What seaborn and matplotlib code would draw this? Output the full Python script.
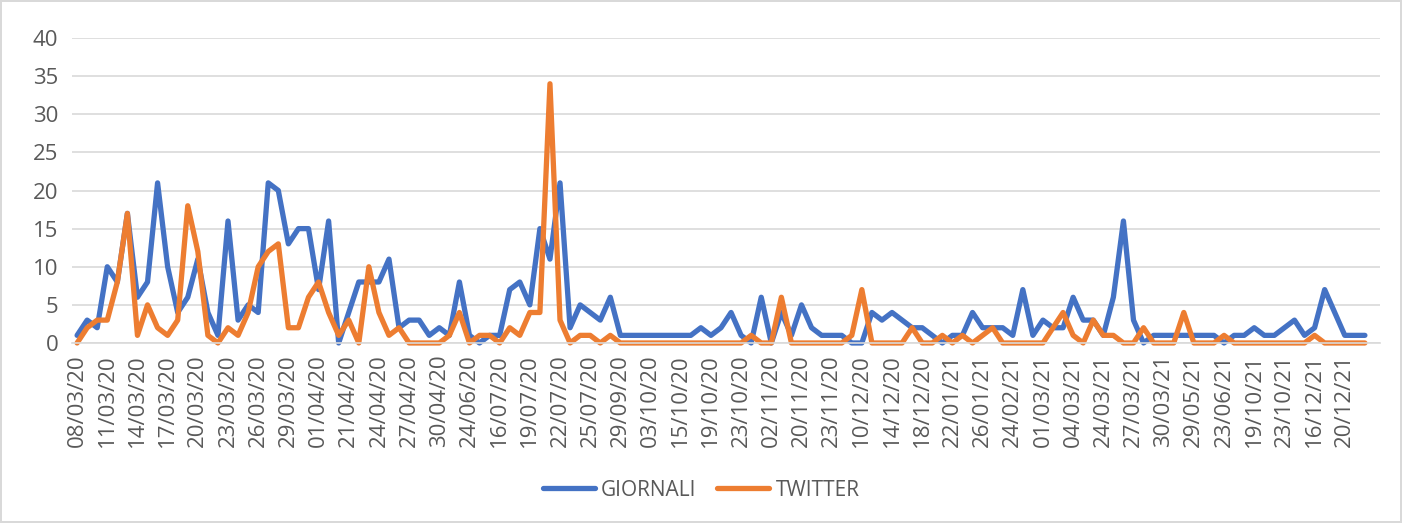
import pandas as pd
import seaborn as sns
import matplotlib.pyplot as plt
import numpy as np

# tick labels (one every 3 days shown)
tick_labels = ['08/03/20', '11/03/20', '14/03/20', '17/03/20', '20/03/20', '23/03/20',
               '26/03/20', '29/03/20', '01/04/20', '21/04/20', '24/04/20', '27/04/20',
               '30/04/20', '24/06/20', '16/07/20', '19/07/20', '22/07/20', '25/07/20',
               '29/09/20', '03/10/20', '15/10/20', '19/10/20', '23/10/20', '02/11/20',
               '20/11/20', '23/11/20', '10/12/20', '14/12/20', '18/12/20', '22/01/21',
               '26/01/21', '24/02/21', '01/03/21', '04/03/21', '24/03/21', '27/03/21',
               '30/03/21', '29/05/21', '23/06/21', '19/10/21', '23/10/21', '16/12/21',
               '20/12/21']

giornali = [1, 3, 2, 10, 8, 17, 6, 8, 21, 10, 4, 6, 11, 4, 1, 16, 3, 5, 4, 21,
            20, 13, 15, 15, 7, 16, 0, 4, 8, 8, 8, 11, 2, 3, 3, 1, 2, 1, 8, 1,
            0, 1, 1, 7, 8, 5, 15, 11, 21, 2, 5, 4, 3, 6, 1, 1, 1, 1, 1, 1,
            1, 1, 2, 1, 2, 4, 1, 0, 6, 0, 4, 1, 5, 2, 1, 1, 1, 0, 0, 4,
            3, 4, 3, 2, 2, 1, 0, 1, 1, 4, 2, 2, 2, 1, 7, 1, 3, 2, 2, 6,
            3, 3, 1, 6, 16, 3, 0, 1, 1, 1, 1, 1, 1, 1, 0, 1, 1, 2, 1, 1,
            2, 3, 1, 2, 7, 4, 1, 1, 1]

twitter = [0, 2, 3, 3, 8, 17, 1, 5, 2, 1, 3, 18, 12, 1, 0, 2, 1, 4, 10, 12,
           13, 2, 2, 6, 8, 4, 1, 3, 0, 10, 4, 1, 2, 0, 0, 0, 0, 1, 4, 0,
           1, 1, 0, 2, 1, 4, 4, 34, 3, 0, 1, 1, 0, 1, 0, 0, 0, 0, 0, 0,
           0, 0, 0, 0, 0, 0, 0, 1, 0, 0, 6, 0, 0, 0, 0, 0, 0, 1, 7, 0,
           0, 0, 0, 2, 0, 0, 1, 0, 1, 0, 1, 2, 0, 0, 0, 0, 0, 2, 4, 1,
           0, 3, 1, 1, 0, 0, 2, 0, 0, 0, 4, 0, 0, 0, 1, 0, 0, 0, 0, 0,
           0, 0, 0, 1, 0, 0, 0, 0, 0]

n = len(giornali)
df = pd.DataFrame({'idx': np.arange(n), 'GIORNALI': giornali, 'TWITTER': twitter})
df = df.melt(id_vars='idx', var_name='serie', value_name='valore')

sns.set_style('white')
plt.rcParams['font.family'] = ['Open Sans', 'DejaVu Sans']

fig, ax = plt.subplots(figsize=(14.02, 5.23), dpi=100)
fig.subplots_adjust(left=0.0514, right=0.9843, top=0.9273, bottom=0.3442)
fig.patch.set_edgecolor('#d9d9d9')
fig.patch.set_linewidth(1.5)

sns.lineplot(data=df, x='idx', y='valore', hue='serie', palette=['#4472C4', '#ED7D31'],
             linewidth=3.8, ax=ax, legend=False, clip_on=False)

ax.set_ylim(0, 40)
ax.set_yticks(range(0, 41, 5))
ax.set_xlim(-0.5, 129.5)
ax.set_xticks(np.arange(0, 3 * len(tick_labels), 3))
ax.set_xticklabels(tick_labels, rotation=90)
ax.set_xticks(np.arange(-0.5, 130, 1), minor=True)
ax.tick_params(axis='x', which='major', length=0, pad=8, labelsize=16, labelcolor='#595959')
ax.tick_params(axis='x', which='minor', length=6, width=1, color='#d9d9d9', direction='out')
ax.tick_params(axis='y', length=0, pad=10, labelsize=16, labelcolor='#595959')
ax.yaxis.grid(True, color='#d9d9d9', linewidth=1.2)
ax.set_axisbelow(True)
for s in ['top', 'right', 'left']:
    ax.spines[s].set_visible(False)
ax.spines['bottom'].set_color('#d9d9d9')
ax.spines['bottom'].set_linewidth(1.2)
ax.set_xlabel('')
ax.set_ylabel('')

handles = [plt.Line2D([], [], color='#4472C4', linewidth=3.8),
           plt.Line2D([], [], color='#ED7D31', linewidth=3.8)]
fig.legend(handles, ['GIORNALI', 'TWITTER'], loc='center', bbox_to_anchor=(0.5, 0.063),
           ncol=2, frameon=False, fontsize=15, labelcolor='#595959',
           handlelength=2.5, columnspacing=1.0, handletextpad=0.3)

fig.savefig('out.png', dpi=100)
